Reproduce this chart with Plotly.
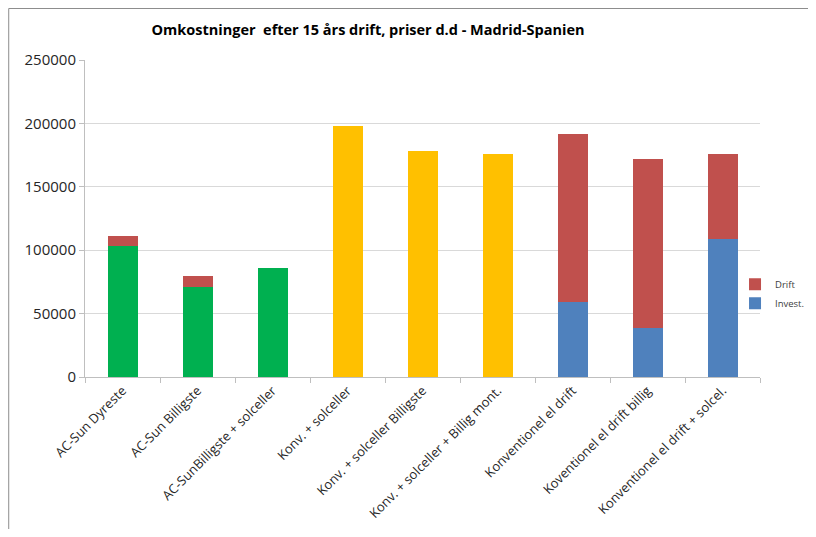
import plotly.graph_objects as go

# kategorier og værdier
KATEGORIER = [
    "AC-Sun Dyreste",
    "AC-Sun Billigste",
    "AC-SunBilligste + solceller",
    "Konv. + solceller",
    "Konv. + solceller Billigste",
    "Konv. + solceller + Billig mont.",
    "Konventionel el drift",
    "Koventionel el drift billig",
    "Konventionel el drift + solcel.",
]
INVEST = [103000, 71000, 86000, 198000, 178000, 175500, 59000, 39000, 109000]
DRIFT = [8300, 8700, 0, 0, 0, 0, 132600, 132600, 66500]

GRUPPER = {
    "acsun": (0, 3, "#00B050"),
    "konv": (3, 6, "#FFC000"),
    "el": (6, 9, "#4F81BD"),
}
FARVE_DRIFT = "#C0504D"

fig = go.Figure()
for navn, (a, b, farve) in GRUPPER.items():
    fig.add_trace(go.Bar(
        x=KATEGORIER[a:b],
        y=INVEST[a:b],
        name="Invest.",
        legendgroup="invest",
        showlegend=(navn == "el"),
        marker=dict(color=farve, line=dict(width=0)),
        width=0.4,
    ))

fig.add_trace(go.Bar(
    x=KATEGORIER,
    y=DRIFT,
    name="Drift",
    marker=dict(color=FARVE_DRIFT, line=dict(width=0)),
    width=0.4,
))

# siden har 8 px body-margin rundt om figuren, derfor 800x521
fig.update_layout(
    width=800, height=521,
    barmode="stack",
    paper_bgcolor="white",
    plot_bgcolor="white",
    margin=dict(l=77, r=48, t=52, b=152, autoexpand=False),
    font=dict(family="Open Sans, sans-serif", color="#262626"),
    title=dict(
        text="<b>Omkostninger  efter 15 års drift, priser d.d - Madrid-Spanien</b>",
        x=0.45, xanchor="center", y=0.958, yanchor="middle",
        font=dict(size=14.5, color="#000000"),
    ),
    legend=dict(
        x=0.963, xanchor="left", y=0.263, yanchor="middle",
        traceorder="reversed",
        font=dict(size=9.5, color="#404040"),
        itemwidth=30, tracegroupgap=0,
        bgcolor="rgba(0,0,0,0)",
    ),
    showlegend=True,
)

fig.update_yaxes(
    range=[0, 250000],
    dtick=50000,
    tickformat="d",
    automargin=False,
    showgrid=True, gridcolor="#D9D9D9", gridwidth=1,
    showline=True, linecolor="#BFBFBF", linewidth=1,
    ticks="outside", ticklen=5, tickcolor="#BFBFBF",
    tickfont=dict(size=15, color="#262626"),
    zeroline=False,
)
fig.update_xaxes(
    categoryorder="array", categoryarray=KATEGORIER,
    tickangle=-45,
    automargin=False,
    tickfont=dict(size=13, color="#262626"),
    showline=True, linecolor="#BFBFBF", linewidth=1,
    ticks="outside", ticklen=5, tickcolor="#BFBFBF",
    tickson="boundaries",
    showgrid=False,
)

# ramme om diagrammet
fig.add_shape(type="line", xref="paper", yref="paper",
              x0=-0.113, x1=1.1, y0=1.1625, y1=1.1625,
              line=dict(color="#8C8C8C", width=1))
fig.add_shape(type="line", xref="paper", yref="paper",
              x0=-0.113, x1=-0.113, y0=1.1625, y1=-0.48,
              line=dict(color="#8C8C8C", width=1))

fig.write_html("out.html")
